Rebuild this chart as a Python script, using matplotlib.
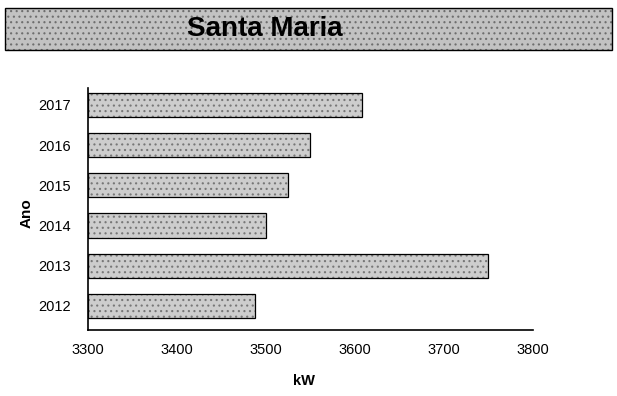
import matplotlib
matplotlib.use("Agg")
import matplotlib.pyplot as plt
from matplotlib.patches import Rectangle

years = ["2012", "2013", "2014", "2015", "2016", "2017"]
values_kw = [3488, 3750, 3500, 3525, 3549, 3608]
x_ticks = [3300, 3400, 3500, 3600, 3700, 3800]
title = "Santa Maria"

plt.rcParams['font.family'] = ['Liberation Sans', 'DejaVu Sans']
plt.rcParams['hatch.linewidth'] = 0.8

fig = plt.figure(figsize=(6.17, 3.96), dpi=100)

# Title banner: speckled fill (gray dots) plus black frame
bx, by, bw, bh = 5 / 617, 1 - 50 / 396, 607 / 617, 42 / 396
fig.patches.append(Rectangle((bx, by), bw, bh, transform=fig.transFigure,
                             facecolor="#c2c2c2", edgecolor="#6e6e6e", linewidth=0,
                             hatch="...", zorder=0))
fig.patches.append(Rectangle((bx, by), bw, bh, transform=fig.transFigure,
                             facecolor="none", edgecolor="black", linewidth=1.0, zorder=1))
fig.text(265 / 617, 1 - 29 / 396, title, ha="center", va="center",
         fontsize=20, fontweight="bold", color="black")

ax = fig.add_axes([88 / 617, 1 - 330 / 396, 445 / 617, 242 / 396])
positions = list(range(len(years)))
widths = [v - 3300 for v in values_kw]
ax.barh(positions, widths, left=3300, height=0.6,
        color="#cdcdcd", edgecolor="#777777", linewidth=0, hatch="...")
ax.barh(positions, widths, left=3300, height=0.6,
        color="none", edgecolor="black", linewidth=0.9)
ax.set_xlim(3300, 3800)
ax.set_ylim(-0.6, 5.42)
ax.set_xticks(x_ticks)
ax.set_xticklabels([str(t) for t in x_ticks], fontsize=10.5)
ax.set_yticks(positions)
ax.set_yticklabels(years, fontsize=10.5)
ax.tick_params(axis="both", length=0)
ax.tick_params(axis="x", pad=9)
ax.tick_params(axis="y", pad=12)
for s in ["top", "right"]:
    ax.spines[s].set_visible(False)
ax.spines["left"].set_linewidth(1.2)
ax.spines["bottom"].set_linewidth(1.2)

fig.text(304 / 617, 1 - 381 / 396, "kW", ha="center", va="center",
         fontsize=10.5, fontweight="bold")
fig.text(27 / 617, 1 - 213 / 396, "Ano", ha="center", va="center",
         fontsize=11, fontweight="bold", rotation=90)

fig.savefig("out.png", dpi=100)
